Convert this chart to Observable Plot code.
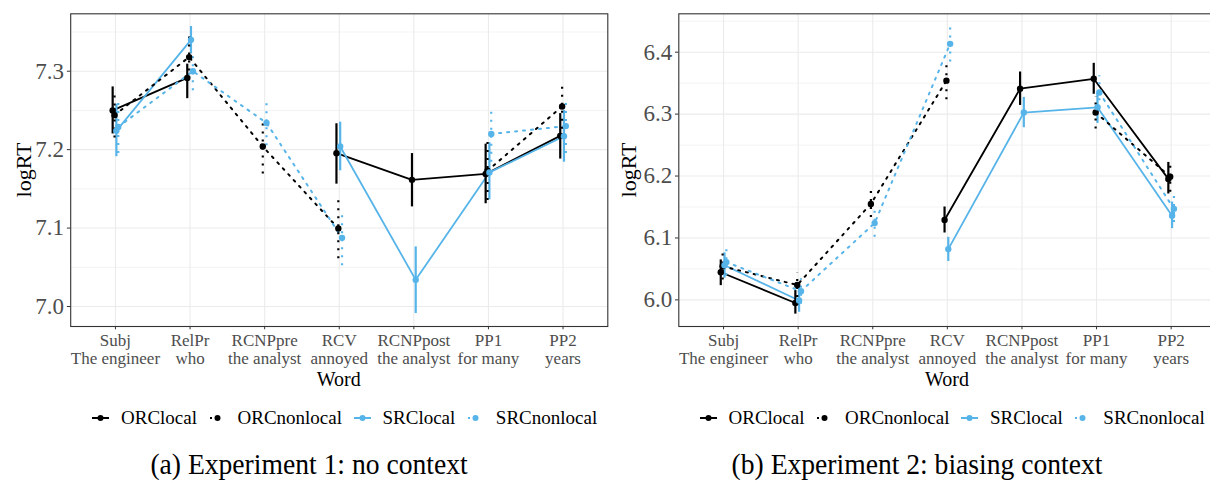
<!DOCTYPE html>
<html>
<head>
<meta charset="utf-8">
<script src="https://cdn.jsdelivr.net/npm/d3@7"></script>
<script src="https://cdn.jsdelivr.net/npm/@observablehq/plot@0.6"></script>
<style>
  html, body { margin: 0; padding: 0; background: #fff; }
  body { width: 1210px; height: 483px; overflow: hidden; position: relative; font-family: "Liberation Serif", "Times New Roman", serif; }
  .pane { position: absolute; top: 0; }
  .pane svg { max-width: none; }
  .ttl { position: absolute; color: #000; white-space: nowrap; }
  .legend { position: absolute; display: flex; align-items: center; font-size: 19px; color: #000; white-space: nowrap; }
  .legend .item { display: flex; align-items: center; margin-right: 11.5px; }
  .legend svg { margin-right: 12px; }
  .cap { position: absolute; font-size: 27.6px; color: #000; white-space: nowrap; transform: translateX(-50%) scaleY(1.06); }
</style>
</head>
<body>
<script>
// ---------- data ----------
const words = ["Subj\nThe engineer", "RelPr\nwho", "RCNPpre\nthe analyst", "RCV\nannoyed", "RCNPpost\nthe analyst", "PP1\nfor many", "PP2\nyears"];
const series = ["ORClocal", "ORCnonlocal", "SRClocal", "SRCnonlocal"];
const seriesColors = ["#000000", "#000000", "#56B4E9", "#56B4E9"];

// Experiment 1: no context
const e1_ORClocal      = [7.250, 7.2915, null, 7.1955, 7.1615, 7.169, 7.2176];
const e1_ORClocal_lo   = [7.220, 7.265, null, 7.156, 7.127, 7.131, 7.188];
const e1_ORClocal_hi   = [7.280, 7.309, null, 7.233, 7.195, 7.207, 7.246];
const e1_ORCnonlocal    = [7.244, 7.318, 7.204, 7.0994, null, 7.173, 7.255];
const e1_ORCnonlocal_lo = [7.215, 7.290, 7.169, 7.061, null, 7.135, 7.226];
const e1_ORCnonlocal_hi = [7.275, 7.345, 7.237, 7.137, null, 7.212, 7.284];
const e1_SRClocal      = [7.224, 7.340, null, 7.204, 7.034, 7.171, 7.217];
const e1_SRClocal_lo   = [7.191, 7.322, null, 7.173, 6.991, 7.136, 7.184];
const e1_SRClocal_hi   = [7.258, 7.357, null, 7.235, 7.076, 7.209, 7.250];
const e1_SRCnonlocal    = [7.229, 7.300, 7.234, 7.0875, null, 7.220, 7.230];
const e1_SRCnonlocal_lo = [7.195, 7.275, 7.205, 7.052, null, 7.184, 7.195];
const e1_SRCnonlocal_hi = [7.262, 7.326, 7.265, 7.122, null, 7.255, 7.263];

// Experiment 2: biasing context
const e2_ORClocal      = [6.0446, 5.995, null, 6.129, 6.341, 6.357, 6.1954];
const e2_ORClocal_lo   = [6.023, 5.977, null, 6.108, 6.314, 6.332, 6.171];
const e2_ORClocal_hi   = [6.0645, 6.015, null, 6.150, 6.368, 6.382, 6.222];
const e2_ORCnonlocal    = [6.0543, 6.024, 6.155, 6.354, null, 6.3025, 6.199];
const e2_ORCnonlocal_lo = [6.032, 6.004, 6.133, 6.323, null, 6.276, 6.174];
const e2_ORCnonlocal_hi = [6.074, 6.043, 6.178, 6.381, null, 6.328, 6.225];
const e2_SRClocal      = [6.056, 5.999, null, 6.082, 6.3025, 6.311, 6.136];
const e2_SRClocal_lo   = [6.035, 5.980, null, 6.062, 6.278, 6.285, 6.115];
const e2_SRClocal_hi   = [6.076, 6.020, null, 6.101, 6.327, 6.335, 6.158];
const e2_SRCnonlocal    = [6.061, 6.014, 6.124, 6.4135, null, 6.335, 6.147];
const e2_SRCnonlocal_lo = [6.039, 5.993, 6.101, 6.384, null, 6.3085, 6.125];
const e2_SRCnonlocal_hi = [6.082, 6.034, 6.145, 6.4415, null, 6.362, 6.168];

const e1_yTicks = [7.0, 7.1, 7.2, 7.3];
const e1_yMinor = [7.05, 7.15, 7.25, 7.35];
const e2_yTicks = [6.0, 6.1, 6.2, 6.3, 6.4];
const e2_yMinor = [6.05, 6.15, 6.25, 6.35, 6.45];

const captions = ["(a) Experiment 1: no context", "(b) Experiment 2: biasing context"];

// ---------- build rows with ggplot-like dodge ----------
function buildRows(means, los, his) {
  const rows = [];
  const dodgeWidth = 0.1;
  for (let i = 0; i < words.length; i++) {
    const present = series.filter((s, k) => means[k][i] != null);
    const n = present.length;
    series.forEach((s, k) => {
      const m = means[k][i];
      const idx = present.indexOf(s);
      const off = idx >= 0 ? (idx - (n - 1) / 2) * (dodgeWidth / n) : 0;
      rows.push({series: s, local: !s.includes("non"), x: i + 1 + off, y: m, lo: los[k][i], hi: his[k][i]});
    });
  }
  return rows;
}

const rows1 = buildRows(
  [e1_ORClocal, e1_ORCnonlocal, e1_SRClocal, e1_SRCnonlocal],
  [e1_ORClocal_lo, e1_ORCnonlocal_lo, e1_SRClocal_lo, e1_SRCnonlocal_lo],
  [e1_ORClocal_hi, e1_ORCnonlocal_hi, e1_SRClocal_hi, e1_SRCnonlocal_hi]);
const rows2 = buildRows(
  [e2_ORClocal, e2_ORCnonlocal, e2_SRClocal, e2_SRCnonlocal],
  [e2_ORClocal_lo, e2_ORCnonlocal_lo, e2_SRClocal_lo, e2_SRCnonlocal_lo],
  [e2_ORClocal_hi, e2_ORCnonlocal_hi, e2_SRClocal_hi, e2_SRCnonlocal_hi]);

const DOT = "2,6";

function panel(rows, cfg) {
  const valid = d => d.y != null;
  return Plot.plot({
    width: cfg.width,
    height: 372,
    marginTop: 13.3,
    marginBottom: 46,
    marginLeft: cfg.mL,
    marginRight: cfg.mR,
    x: {type: "linear", domain: [0.4, 7.6]},
    y: {type: "linear", domain: cfg.yDomain},
    color: {domain: series, range: seriesColors},
    style: {background: "transparent", overflow: "visible", fontFamily: "Liberation Serif, serif", maxWidth: "none"},
    marks: [
      Plot.ruleY(cfg.yMinor, {y: d => d, stroke: "#EBEBEB", strokeWidth: 0.6}),
      Plot.gridY({ticks: cfg.yTicks, stroke: "#EBEBEB", strokeOpacity: 1, strokeWidth: 1.1}),
      Plot.gridX({ticks: [1, 2, 3, 4, 5, 6, 7], stroke: "#EBEBEB", strokeOpacity: 1, strokeWidth: 1.1}),
      Plot.line(rows.filter(d => d.local), {x: "x", y: "y", z: "series", stroke: "series", strokeWidth: 1.8}),
      Plot.line(rows.filter(d => !d.local), {x: "x", y: "y", z: "series", stroke: "series", strokeWidth: 2, strokeDasharray: DOT}),
      Plot.ruleX(rows.filter(d => valid(d) && d.local), {x: "x", y1: "lo", y2: "hi", stroke: "series", strokeWidth: 2.2}),
      Plot.ruleX(rows.filter(d => valid(d) && !d.local), {x: "x", y1: "lo", y2: "hi", stroke: "series", strokeWidth: 2.2, strokeDasharray: DOT}),
      Plot.dot(rows.filter(valid), {x: "x", y: "y", fill: "series", r: 3.2}),
      Plot.frame({stroke: "#333333", strokeWidth: 1.1}),
      Plot.axisX({ticks: [1, 2, 3, 4, 5, 6, 7], tickFormat: i => words[i - 1], tickSize: 3.3, tickPadding: 3,
        fontSize: 17, lineHeight: 1.08, fill: "#4D4D4D", stroke: "#333333", label: null}),
      Plot.axisY({ticks: cfg.yTicks, tickFormat: d => d.toFixed(1), tickSize: 3.3, tickPadding: 3.3,
        fontSize: 23, fill: "#4D4D4D", stroke: "#333333", label: null})
    ]
  });
}

function addPane(left, width, node) {
  const div = document.createElement("div");
  div.className = "pane";
  div.style.left = left + "px";
  div.style.width = width + "px";
  div.appendChild(node);
  document.body.appendChild(div);
}

addPane(0, 610, panel(rows1, {width: 610, mL: 70.2, mR: 2.7, yDomain: [6.9745, 7.3732], yTicks: e1_yTicks, yMinor: e1_yMinor}));
addPane(605, 615, panel(rows2, {width: 615, mL: 73.3, mR: 4.6, yDomain: [5.957, 6.462], yTicks: e2_yTicks, yMinor: e2_yMinor}));

function addText(cls, text, styles) {
  const el = document.createElement("div");
  el.className = cls;
  el.textContent = text;
  Object.assign(el.style, styles);
  document.body.appendChild(el);
  return el;
}

// axis titles
[[0, 338.8, 24], [605, 342, 24]].forEach(([off, cx, ly]) => {
  addText("ttl", "Word", {left: (off + cx) + "px", top: "379px", fontSize: "20px", transform: "translate(-50%,-50%)"});
  addText("ttl", "logRT", {left: (off + ly) + "px", top: "170px", fontSize: "22px", transform: "translate(-50%,-50%) rotate(-90deg)"});
});

// legends
function legend(left) {
  const lg = document.createElement("div");
  lg.className = "legend";
  lg.style.left = left + "px";
  lg.style.top = "418px";
  lg.style.transform = "translateY(-50%)";
  series.forEach((s, k) => {
    const item = document.createElement("div");
    item.className = "item";
    const local = !s.includes("non");
    const c = seriesColors[k];
    item.innerHTML = `<svg width="17" height="12"><line x1="0" x2="17" y1="6" y2="6" stroke="${c}" stroke-width="2" ${local ? "" : 'stroke-dasharray="2,6" stroke-dashoffset="-1"'}/><circle cx="8.5" cy="6" r="3" fill="${c}"/></svg><span>${s}</span>`;
    lg.appendChild(item);
  });
  document.body.appendChild(lg);
}
legend(92);
legend(699.5);

// captions
addText("cap", captions[0], {left: "309px", top: "448px"});
addText("cap", captions[1], {left: "917px", top: "448px"});
</script>
</body>
</html>
